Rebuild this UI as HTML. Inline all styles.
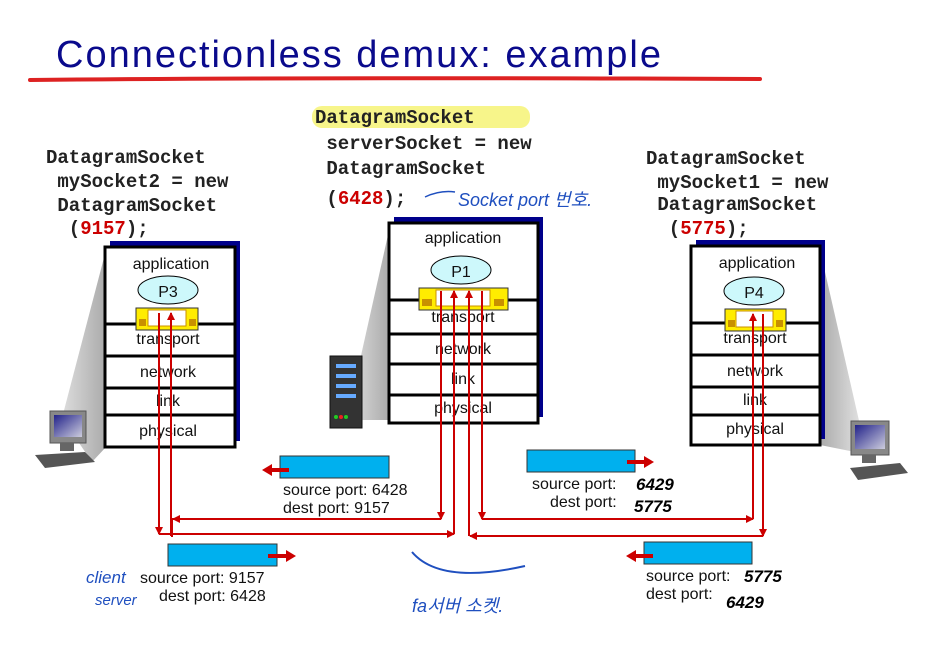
<!DOCTYPE html>
<html><head><meta charset="utf-8"><style>
html,body{margin:0;padding:0;background:#fff;}
svg{display:block;}
.mono{font-family:"Liberation Mono",monospace;font-weight:bold;font-size:19px;fill:#222;}
.sans{font-family:"Liberation Sans",sans-serif;font-size:16px;fill:#111;}
.lay{font-family:"Liberation Sans",sans-serif;font-size:16px;fill:#111;text-anchor:middle;}
.hw{font-family:"Liberation Sans","Noto Sans CJK KR",sans-serif;fill:#1f4fbf;font-style:italic;}
.hk{font-family:"Liberation Sans",sans-serif;fill:#000;font-style:italic;font-weight:bold;}
</style></head><body>
<svg width="931" height="646" viewBox="0 0 931 646" xmlns="http://www.w3.org/2000/svg">
<defs>
<marker id="ah" markerWidth="8" markerHeight="8" refX="7" refY="4" orient="auto" markerUnits="userSpaceOnUse"><path d="M0,0 L8,4 L0,8 z" fill="#c00"/></marker>
<linearGradient id="sh" x1="0" x2="1"><stop offset="0" stop-color="#ddd"/><stop offset="1" stop-color="#aaa"/></linearGradient>
<linearGradient id="shr" x1="0" x2="1"><stop offset="0" stop-color="#aaa"/><stop offset="1" stop-color="#eee"/></linearGradient>
<linearGradient id="scr" x1="0" y1="0" x2="1" y2="1"><stop offset="0" stop-color="#22228a"/><stop offset="1" stop-color="#ccd"/></linearGradient>
</defs>
<text x="56" y="67" font-family="Liberation Sans,sans-serif" font-size="38" fill="#0a0a8c" textLength="605">Connectionless demux: example</text>
<path d="M30,80 Q300,77 760,79" stroke="#d22" stroke-width="4" fill="none" stroke-linecap="round"/>

<!-- code -->
<text class="mono" xml:space="preserve"><tspan x="46" y="163">DatagramSocket</tspan><tspan x="46" y="187"> mySocket2 = new</tspan><tspan x="46" y="211"> DatagramSocket</tspan><tspan x="46" y="234">  (<tspan fill="#c00">9157</tspan>);</tspan></text>
<rect x="312" y="106" width="218" height="22" rx="10" fill="#f7f58a"/>
<text class="mono" xml:space="preserve"><tspan x="315" y="123">DatagramSocket</tspan><tspan x="315" y="149"> serverSocket = new</tspan><tspan x="315" y="174"> DatagramSocket</tspan><tspan x="315" y="204"> (<tspan fill="#c00">6428</tspan>);</tspan></text>
<text class="mono" xml:space="preserve"><tspan x="646" y="164">DatagramSocket</tspan><tspan x="646" y="188"> mySocket1 = new</tspan><tspan x="646" y="210"> DatagramSocket</tspan><tspan x="646" y="234">  (<tspan fill="#c00">5775</tspan>);</tspan></text>
<path d="M425,197 Q440,190 455,192" stroke="#1f4fbf" stroke-width="1.5" fill="none"/>
<text class="hw" x="458" y="206" font-size="18">Socket port 번호.</text>

<!-- shadows to devices -->
<polygon points="106,250 106,447 92,462 62,418" fill="url(#sh)"/>
<polygon points="390,226 390,420 350,420 360,360" fill="url(#sh)"/>
<polygon points="820,250 820,445 870,455 860,425" fill="url(#shr)"/>

<!-- left host -->
<rect x="110" y="241" width="130" height="200" fill="#00008b"/>
<rect x="105" y="247" width="130" height="200" fill="#fff" stroke="#000" stroke-width="3"/>
<g stroke="#000" stroke-width="3"><line x1="105" y1="324" x2="235" y2="324"/><line x1="105" y1="356" x2="235" y2="356"/><line x1="105" y1="388" x2="235" y2="388"/><line x1="105" y1="415" x2="235" y2="415"/></g>
<text class="lay" x="171" y="269">application</text>
<ellipse cx="168" cy="290" rx="30" ry="14" fill="#cdf8fb" stroke="#000"/>
<text class="lay" x="168" y="297" font-size="19">P3</text>
<rect x="136" y="308" width="62" height="22" fill="#ffec00" stroke="#333"/>
<rect x="148" y="310" width="38" height="16" fill="#fff" stroke="#c89000"/>
<rect x="139" y="319" width="7" height="7" fill="#c89000"/><rect x="189" y="319" width="7" height="7" fill="#c89000"/>
<text class="lay" x="168" y="344">transport</text>
<text class="lay" x="168" y="377">network</text>
<text class="lay" x="168" y="406">link</text>
<text class="lay" x="168" y="436">physical</text>

<!-- center host -->
<rect x="394" y="217" width="149" height="200" fill="#00008b"/>
<rect x="389" y="223" width="149" height="200" fill="#fff" stroke="#000" stroke-width="3"/>
<g stroke="#000" stroke-width="3"><line x1="389" y1="300" x2="538" y2="300"/><line x1="389" y1="334" x2="538" y2="334"/><line x1="389" y1="364" x2="538" y2="364"/><line x1="389" y1="395" x2="538" y2="395"/></g>
<text class="lay" x="463" y="243">application</text>
<ellipse cx="461" cy="270" rx="30" ry="14" fill="#cdf8fb" stroke="#000"/>
<text class="lay" x="461" y="277" font-size="19">P1</text>
<rect x="419" y="288" width="89" height="22" fill="#ffec00" stroke="#333"/>
<rect x="436" y="290" width="54" height="16" fill="#fff" stroke="#c89000"/>
<rect x="422" y="299" width="10" height="7" fill="#c89000"/><rect x="494" y="299" width="10" height="7" fill="#c89000"/>
<text class="lay" x="463" y="322">transport</text>
<text class="lay" x="463" y="354">network</text>
<text class="lay" x="463" y="384">link</text>
<text class="lay" x="463" y="413">physical</text>

<!-- right host -->
<rect x="696" y="240" width="129" height="199" fill="#00008b"/>
<rect x="691" y="246" width="129" height="199" fill="#fff" stroke="#000" stroke-width="3"/>
<g stroke="#000" stroke-width="3"><line x1="691" y1="323" x2="820" y2="323"/><line x1="691" y1="355" x2="820" y2="355"/><line x1="691" y1="387" x2="820" y2="387"/><line x1="691" y1="415" x2="820" y2="415"/></g>
<text class="lay" x="757" y="268">application</text>
<ellipse cx="754" cy="291" rx="30" ry="14" fill="#cdf8fb" stroke="#000"/>
<text class="lay" x="754" y="298" font-size="19">P4</text>
<rect x="725" y="309" width="61" height="22" fill="#ffec00" stroke="#333"/>
<rect x="736" y="311" width="37" height="16" fill="#fff" stroke="#c89000"/>
<rect x="728" y="320" width="7" height="7" fill="#c89000"/><rect x="776" y="320" width="7" height="7" fill="#c89000"/>
<text class="lay" x="755" y="343">transport</text>
<text class="lay" x="755" y="376">network</text>
<text class="lay" x="755" y="405">link</text>
<text class="lay" x="755" y="434">physical</text>

<!-- devices -->
<g>
<rect x="50" y="411" width="36" height="32" fill="#888" stroke="#555"/>
<rect x="54" y="415" width="28" height="22" fill="url(#scr)"/>
<polygon points="35,455 85,452 95,462 45,468" fill="#555"/>
<rect x="60" y="443" width="14" height="8" fill="#666"/>
</g>
<g>
<rect x="330" y="356" width="32" height="72" fill="#333" stroke="#111"/>
<rect x="336" y="364" width="20" height="4" fill="#6af"/><rect x="336" y="374" width="20" height="4" fill="#6af"/><rect x="336" y="384" width="20" height="4" fill="#6af"/><rect x="336" y="394" width="20" height="4" fill="#6af"/>
<circle cx="336" cy="417" r="2" fill="#2c2"/><circle cx="341" cy="417" r="2" fill="#e22"/><circle cx="346" cy="417" r="2" fill="#2c2"/>
</g>
<g>
<rect x="851" y="421" width="38" height="34" fill="#888" stroke="#555"/>
<rect x="855" y="425" width="30" height="24" fill="url(#scr)"/>
<polygon points="850,468 900,463 908,473 858,480" fill="#555"/>
<rect x="862" y="455" width="14" height="8" fill="#666"/>
</g>

<!-- red connectors -->
<g stroke="#c00" stroke-width="2" fill="none">
<polyline points="441,291 441,519" marker-end="url(#ah)"/>
<polyline points="441,519 172,519 172,537"/>
<polyline points="441,519 173,519" marker-end="url(#ah)"/>
<polyline points="171,536 171,313" marker-end="url(#ah)"/>
<polyline points="159,313 159,534" marker-end="url(#ah)"/>
<polyline points="159,534 454,534" marker-end="url(#ah)"/>
<polyline points="454,534 454,291" marker-end="url(#ah)"/>
<polyline points="482,291 482,519" marker-end="url(#ah)"/>
<polyline points="482,519 753,519" marker-end="url(#ah)"/>
<polyline points="753,519 753,314" marker-end="url(#ah)"/>
<polyline points="763,314 763,536" marker-end="url(#ah)"/>
<polyline points="763,536 470,536" marker-end="url(#ah)"/>
<polyline points="469,536 469,291" marker-end="url(#ah)"/>
</g>

<!-- packets -->
<rect x="280" y="456" width="109" height="22" fill="#00b0ee" stroke="#333"/>
<line x1="289" y1="470" x2="270" y2="470" stroke="#c00" stroke-width="4"/><polygon points="262,470 272,464 272,476" fill="#c00"/>
<text class="sans" x="283" y="495">source port: 6428</text>
<text class="sans" x="283" y="513">dest port: 9157</text>

<rect x="168" y="544" width="109" height="22" fill="#00b0ee" stroke="#333"/>
<line x1="268" y1="556" x2="287" y2="556" stroke="#c00" stroke-width="4"/><polygon points="296,556 286,550 286,562" fill="#c00"/>
<text class="sans" x="140" y="583">source port: 9157</text>
<text class="sans" x="159" y="601">dest port: 6428</text>

<rect x="527" y="450" width="108" height="22" fill="#00b0ee" stroke="#333"/>
<line x1="627" y1="462" x2="645" y2="462" stroke="#c00" stroke-width="4"/><polygon points="654,462 644,456 644,468" fill="#c00"/>
<text class="sans" x="532" y="489">source port:</text>
<text class="sans" x="550" y="507">dest port:</text>
<text class="hk" x="636" y="490" font-size="17">6429</text>
<text class="hk" x="634" y="512" font-size="17">5775</text>

<rect x="644" y="542" width="108" height="22" fill="#00b0ee" stroke="#333"/>
<line x1="653" y1="556" x2="634" y2="556" stroke="#c00" stroke-width="4"/><polygon points="626,556 636,550 636,562" fill="#c00"/>
<text class="sans" x="646" y="581">source port:</text>
<text class="sans" x="646" y="599">dest port:</text>
<text class="hk" x="744" y="582" font-size="17">5775</text>
<text class="hk" x="726" y="608" font-size="17">6429</text>

<!-- handwriting -->
<text class="hw" x="86" y="583" font-size="17">client</text>
<text class="hw" x="95" y="605" font-size="15">server</text>
<path d="M412,552 Q440,585 525,566" stroke="#1f4fbf" stroke-width="2" fill="none"/>
<text class="hw" x="412" y="612" font-size="18">fa서버 소켓.</text>
</svg>
</body></html>
